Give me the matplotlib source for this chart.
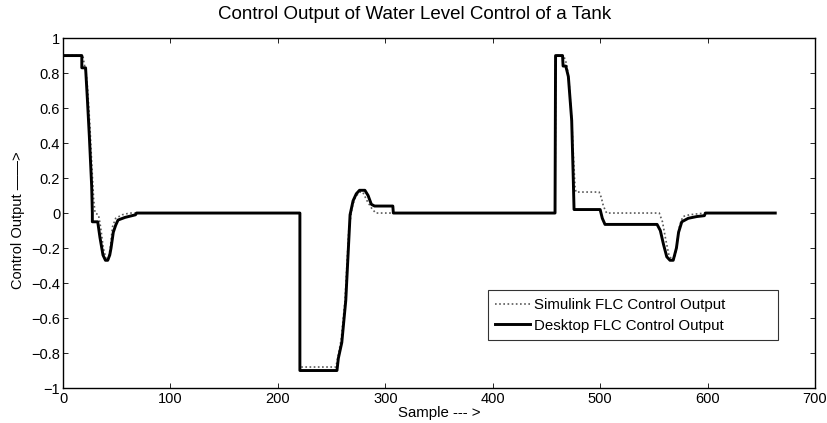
import numpy as np
import matplotlib
matplotlib.use('Agg')
import matplotlib.pyplot as plt

plt.rcParams['font.family'] = ['Liberation Sans', 'DejaVu Sans']

# Simulink FLC control output (dotted), breakpoints
sim_x = [0, 18.5, 19.5, 21.5, 23, 25, 27, 28.5, 29.8, 33, 35, 37.5, 40, 42, 44, 46, 49, 55, 62,
         220.5, 220.5, 254, 256, 259, 262.5, 266, 269, 272, 276, 279, 283, 287, 291,
         458, 458.5, 466, 468.9, 471, 473.5, 475, 476.6, 477.5, 499, 501, 503, 506,
         555, 558, 561, 564, 567, 570, 572, 574, 577, 583, 597, 663]
sim_y = [0.9, 0.9, 0.86, 0.8, 0.7, 0.5, 0.25, 0.08, 0.0, -0.01, -0.08, -0.2, -0.26, -0.27, -0.2, -0.08, -0.03, -0.01, 0.0,
         0.0, -0.88, -0.88, -0.82, -0.72, -0.5, -0.1, 0.03, 0.09, 0.12, 0.12, 0.07, 0.03, 0.0,
         0.0, 0.9, 0.9, 0.85, 0.75, 0.53, 0.34, 0.15, 0.12, 0.12, 0.09, 0.04, 0.0,
         0.0, -0.05, -0.15, -0.24, -0.27, -0.24, -0.15, -0.07, -0.02, -0.01, 0.0, 0.0]

# Desktop FLC control output (solid)
desk_x = [0, 17.5, 17.5, 21, 22.6, 24.5, 26.7, 27.3, 27.3, 32.3, 34.4, 37.2, 39.5, 41.6, 43.5, 44.7, 46.8, 49,
          51.2, 57.7, 64.2, 67.5, 68.5,
          220.5, 220.5, 255, 256.3, 259.5, 263.2, 267.2, 270, 273, 276, 281, 284, 287, 290, 307, 307.5,
          458, 458.5, 465, 465.5, 468, 470.4, 473.5, 475, 475.7, 500, 502, 504.5,
          553, 556, 559, 562, 565, 568, 571, 573, 576, 582, 590, 597, 598, 663]
desk_y = [0.9, 0.9, 0.83, 0.83, 0.66, 0.44, 0.15, 0.0, -0.05, -0.05, -0.14, -0.24, -0.27, -0.27, -0.24, -0.2, -0.11, -0.07,
          -0.04, -0.025, -0.015, -0.01, 0.0,
          0.0, -0.9, -0.9, -0.83, -0.74, -0.5, -0.01, 0.07, 0.11, 0.13, 0.13, 0.1, 0.05, 0.04, 0.04, 0.0,
          0.0, 0.9, 0.9, 0.84, 0.84, 0.78, 0.53, 0.19, 0.02, 0.02, -0.03, -0.065,
          -0.065, -0.1, -0.18, -0.25, -0.27, -0.27, -0.2, -0.11, -0.05, -0.03, -0.02, -0.015, 0.0, 0.0]

xticks = [0, 100, 200, 300, 400, 500, 600, 700]
yticks = [-1, -0.8, -0.6, -0.4, -0.2, 0, 0.2, 0.4, 0.6, 0.8, 1]
ytick_labels = ['\u22121', '\u22120.8', '\u22120.6', '\u22120.4', '\u22120.2', '0', '0.2', '0.4', '0.6', '0.8', '1']

fig = plt.figure(figsize=(8.27, 4.23), dpi=100)
ax = fig.add_axes([0.0762, 0.0827, 0.9093, 0.8273])

ax.plot(sim_x, sim_y, color='0.35', linestyle=(0, (1, 1.5)), linewidth=1.2,
        label='Simulink FLC Control Output')
ax.plot(desk_x, desk_y, color='k', linewidth=2.1, label='Desktop FLC Control Output')

ax.set_xlim(0, 700)
ax.set_ylim(-1, 1)
ax.set_xticks(xticks)
ax.set_xticklabels([str(t) for t in xticks])
ax.set_yticks(yticks)
ax.set_yticklabels(ytick_labels)
ax.tick_params(direction='in', top=True, right=True, labelsize=10.5, length=3.6, width=0.6, pad=2)
ax.tick_params(axis='x', pad=3)
for sp in ax.spines.values():
    sp.set_linewidth(1.0)

ax.set_title('Control Output of Water Level Control of a Tank', fontsize=13.5, pad=14, x=0.468)
ax.set_xlabel('Sample --- >', fontsize=10.8, labelpad=0)
ax.set_ylabel('Control Output \u2014\u2014>', fontsize=10.5, labelpad=3)
ax.yaxis.set_label_coords(-0.05, 0.48)

leg = ax.legend(loc='lower left', bbox_to_anchor=(0.565, 0.137, 0.386, 0.146), mode='expand',
                fontsize=10.8, frameon=True, fancybox=False, handlelength=2.3, handletextpad=0.3,
                borderpad=0.5, labelspacing=0.45, borderaxespad=0)
leg.get_frame().set_edgecolor('k')
leg.get_frame().set_linewidth(0.8)

fig.savefig('out.png', dpi=100)
